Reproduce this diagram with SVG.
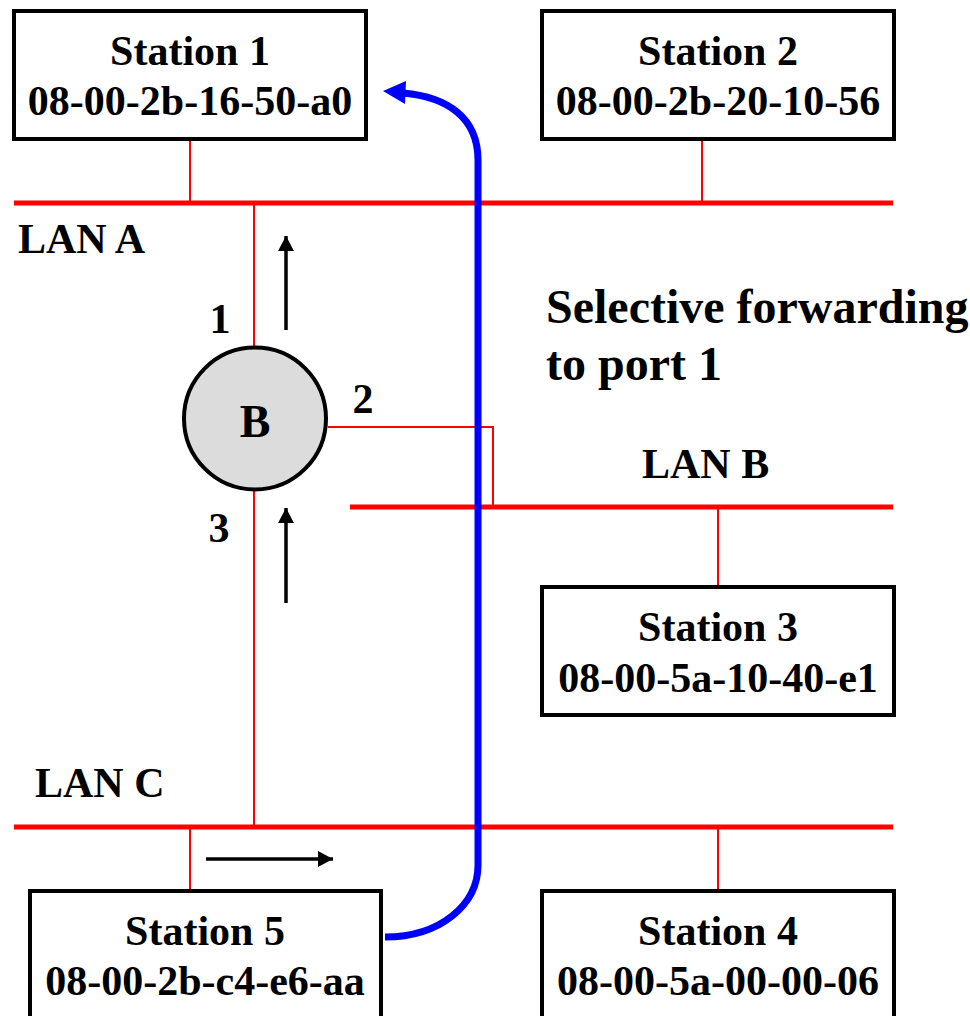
<svg xmlns="http://www.w3.org/2000/svg" width="970" height="1016" viewBox="0 0 970 1016">
<style>
.t{font-family:"Liberation Serif","Times New Roman",serif;font-weight:bold;fill:#000}
.st{font-size:42px;text-anchor:middle}
.box{fill:#fff;stroke:#000;stroke-width:4}
.lan{stroke:#ff0000;stroke-width:5;fill:none}
.tap{stroke:#ff0000;stroke-width:2;fill:none}
.arr{stroke:#000;stroke-width:3.5;fill:none}
</style>
<defs>
<marker id="ah" markerUnits="userSpaceOnUse" markerWidth="16" markerHeight="16" refX="15" refY="8" orient="auto">
<path d="M0,0 L15,8 L0,16 Z" fill="#000"/>
</marker>
</defs>
<rect width="970" height="1016" fill="#fff"/>
<g id="connectors">
<line class="lan" x1="14" y1="203" x2="893" y2="203"/>
<line class="lan" x1="350" y1="507" x2="893" y2="507"/>
<line class="lan" x1="14" y1="827" x2="893" y2="827"/>
<line class="tap" x1="190" y1="141" x2="190" y2="203"/>
<line class="tap" x1="702" y1="141" x2="702" y2="203"/>
<line class="tap" x1="718" y1="507" x2="718" y2="585"/>
<line class="tap" x1="718" y1="827" x2="718" y2="889"/>
<line class="tap" x1="190" y1="827" x2="190" y2="889"/>
<line class="tap" x1="254" y1="203" x2="254" y2="346"/>
<line class="tap" x1="254" y1="491" x2="254" y2="827"/>
<polyline class="tap" points="328,427 493,427 493,507"/>
<line class="arr" x1="286" y1="330" x2="286" y2="236" marker-end="url(#ah)"/>
<line class="arr" x1="286" y1="603" x2="286" y2="508" marker-end="url(#ah)"/>
<line class="arr" x1="206" y1="859" x2="333" y2="859" marker-end="url(#ah)"/>
<path d="M385,937 C440,937 478,905 478,865 L478,160 C478,118 448,97 403,93" fill="none" stroke="#0000ff" stroke-width="7"/>
<polygon points="383,91 406,81 405,104" fill="#0000ff"/>
</g>
<g id="station1">
<rect class="box" x="14" y="11" width="352" height="128"/>
<text class="t st" x="190" y="65">Station 1</text>
<text class="t st" x="190" y="115">08-00-2b-16-50-a0</text>
</g>
<g id="station2">
<rect class="box" x="542" y="11" width="352" height="128"/>
<text class="t st" x="718" y="65">Station 2</text>
<text class="t st" x="718" y="115">08-00-2b-20-10-56</text>
</g>
<g id="station3">
<rect class="box" x="542" y="587" width="352" height="128"/>
<text class="t st" x="718" y="641">Station 3</text>
<text class="t st" x="718" y="692">08-00-5a-10-40-e1</text>
</g>
<g id="station4">
<rect class="box" x="542" y="891" width="352" height="150"/>
<text class="t st" x="718" y="945">Station 4</text>
<text class="t st" x="718" y="995">08-00-5a-00-00-06</text>
</g>
<g id="station5">
<rect class="box" x="30" y="891" width="351" height="150"/>
<text class="t st" x="205" y="945">Station 5</text>
<text class="t st" x="205" y="995">08-00-2b-c4-e6-aa</text>
</g>
<g id="bridge">
<circle cx="255" cy="418.5" r="71" fill="#dcdcdc" stroke="#000" stroke-width="4"/>
<text class="t" x="255" y="437" font-size="46" text-anchor="middle">B</text>
<text class="t st" x="220" y="333">1</text>
<text class="t st" x="363" y="413">2</text>
<text class="t st" x="219" y="542">3</text>
</g>
<g id="labels">
<text class="t" x="18" y="253" font-size="42">LAN A</text>
<text class="t" x="642" y="478" font-size="42">LAN B</text>
<text class="t" x="35" y="797" font-size="42">LAN C</text>
<text class="t" x="546" y="323" font-size="48">Selective forwarding</text>
<text class="t" x="546" y="380" font-size="48">to port 1</text>
</g>
</svg>
